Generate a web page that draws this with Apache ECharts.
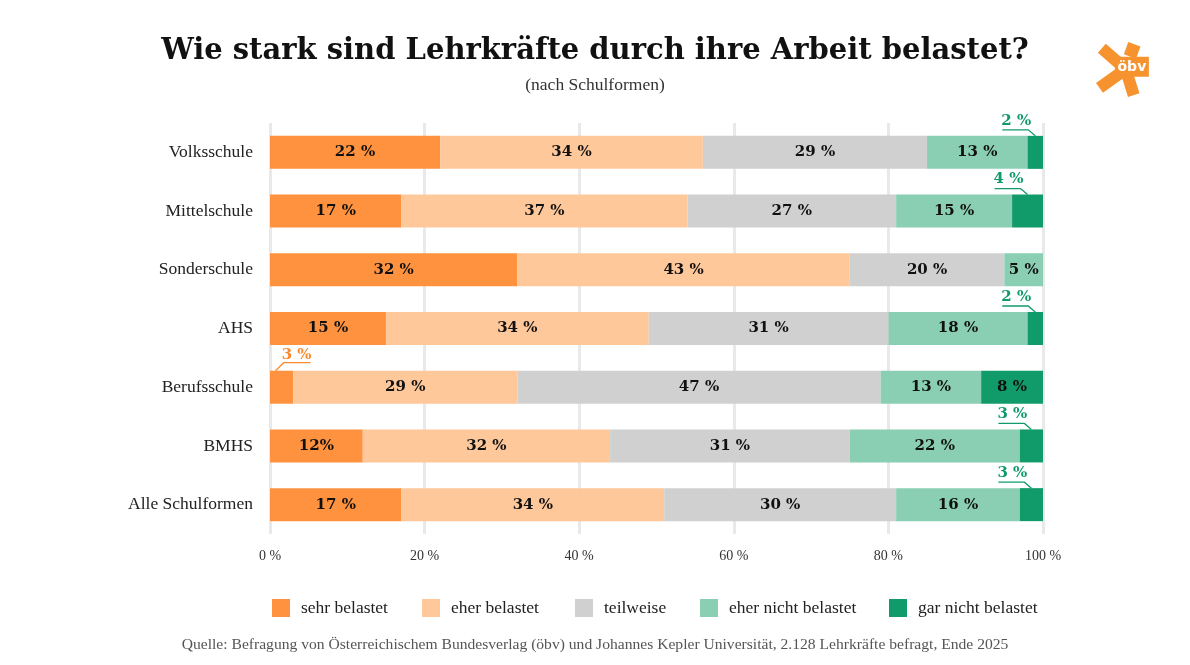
<!DOCTYPE html>
<html>
<head>
<meta charset="utf-8">
<script src="https://cdn.jsdelivr.net/npm/echarts@6/dist/echarts.min.js"></script>
<style>
html,body{margin:0;padding:0;background:#fff;}
#chart{width:1190px;height:665px;}
</style>
</head>
<body>
<div id="chart"></div>
<script>
const categories = ["Volksschule","Mittelschule","Sonderschule","AHS","Berufsschule","BMHS","Alle Schulformen"];
const seriesNames = ["sehr belastet","eher belastet","teilweise","eher nicht belastet","gar nicht belastet"];
const sehrBelastet = [22,17,32,15,3,12,17];
const eherBelastet = [34,37,43,34,29,32,34];
const teilweise = [29,27,20,31,47,31,30];
const eherNichtBelastet = [13,15,5,18,13,22,16];
const garNichtBelastet = [2,4,0,2,8,3,3];
const xTicks = [0,20,40,60,80,100];

const colors = ["#FF923E","#FFC89A","#D0D0D0","#8ACEB4","#119B6A"];
const calloutColors = ["#F98B2E","#119B6A"];
const allSeries = [sehrBelastet, eherBelastet, teilweise, eherNichtBelastet, garNichtBelastet];

const serif = "'Liberation Serif', serif";
const heavy = "'DejaVu Serif', serif";

// callouts for small segments (< 5 %)
const callouts = [];
categories.forEach((c, i) => {
  let start = 0;
  allSeries.forEach((arr, s) => {
    const v = arr[i];
    if (v > 0 && v < 5) callouts.push([start + v / 2, i, v, s]);
    start += v;
  });
});

const chart = echarts.init(document.getElementById('chart'));

const barSeries = allSeries.map((arr, s) => ({
  name: seriesNames[s],
  type: 'bar',
  stack: 'total',
  data: arr,
  barWidth: 33,
  itemStyle: { color: colors[s] },
  label: {
    show: true,
    position: 'inside',
    fontFamily: heavy,
    fontWeight: 'bold',
    fontSize: 15,
    color: '#111',
    formatter: p => {
      if (p.value < 5) return '';
      if (s === 0 && categories[p.dataIndex] === 'BMHS') return p.value + '%';
      return p.value + ' %';
    }
  },
  emphasis: { disabled: true }
}));

const legendLefts = [272, 422, 575, 700, 889];
const legends = seriesNames.map((n, k) => ({
  data: [n],
  left: legendLefts[k],
  top: 599,
  padding: 0,
  itemWidth: 18,
  itemHeight: 18,
  icon: 'rect',
  selectedMode: false,
  textStyle: { fontFamily: serif, fontSize: 17.5, color: '#222', padding: [0, 0, 0, 6] }
}));

const option = {
  animation: false,
  backgroundColor: '#fff',
  color: colors,
  legend: legends,
  grid: { left: 270, right: 147, top: 123, bottom: 131 },
  xAxis: {
    type: 'value', min: 0, max: 100, interval: 20,
    axisLine: { show: false }, axisTick: { show: false },
    splitLine: { show: true, lineStyle: { color: '#E9E9E9', width: 3 } },
    axisLabel: { formatter: v => xTicks.includes(v) ? v + ' %' : '', fontFamily: serif, fontSize: 14, color: '#333', margin: 15 }
  },
  yAxis: {
    type: 'category', inverse: true, data: categories,
    axisLine: { show: false }, axisTick: { show: false },
    axisLabel: { fontFamily: serif, fontSize: 17.5, color: '#222', margin: 17 }
  },
  series: barSeries.concat([{
    type: 'custom',
    data: callouts,
    z: 10,
    clip: false,
    silent: true,
    renderItem: (params, api) => {
      const pt = api.coord([api.value(0), api.value(1)]);
      const half = 33 / 2;
      const cx = pt[0];
      const top = pt[1] - half;
      const s = api.value(3);
      const col = s === 0 ? calloutColors[0] : calloutColors[1];
      const txt = api.value(2) + ' %';
      if (s === 0) {
        return { type: 'group', children: [
          { type: 'polyline', shape: { points: [[cx - 6, top], [cx + 2, top - 8], [cx + 29, top - 8]] }, style: { stroke: col, lineWidth: 1.3, fill: null } },
          { type: 'text', style: { x: cx + 15, y: top - 16, text: txt, fill: col, font: "bold 15px 'DejaVu Serif'", align: 'center', verticalAlign: 'middle' } }
        ]};
      }
      return { type: 'group', children: [
        { type: 'polyline', shape: { points: [[cx, top], [cx - 7, top - 6], [cx - 33, top - 6]] }, style: { stroke: col, lineWidth: 1.3, fill: null } },
        { type: 'text', style: { x: cx - 19, y: top - 15, text: txt, fill: col, font: "bold 15px 'DejaVu Serif'", align: 'center', verticalAlign: 'middle' } }
      ]};
    }
  }]),
  graphic: [
    { type: 'text', left: 'center', top: 37, style: { text: 'Wie stark sind Lehrkräfte durch ihre Arbeit belastet?', font: "900 29px 'DejaVu Serif'", fill: '#111' } },
    { type: 'text', left: 'center', top: 76, style: { text: '(nach Schulformen)', font: "17.5px 'Liberation Serif'", fill: '#333' } },
    { type: 'text', left: 'center', top: 637, style: { text: 'Quelle: Befragung von Österreichischem Bundesverlag (öbv) und Johannes Kepler Universität, 2.128 Lehrkräfte befragt, Ende 2025', font: "15.6px 'Liberation Serif'", fill: '#555' } },
    // logo
    { type: 'group', left: 1096, top: 42, children: [
      { type: 'rect', shape: { x: -6, y: -6, width: 13, height: 13 }, x: 33, y: 9, rotation: -0.35, style: { fill: '#F7932F' } },
      { type: 'rect', shape: { x: -6, y: -16, width: 12, height: 30 }, x: 15, y: 18, rotation: 0.85, style: { fill: '#F7932F' } },
      { type: 'rect', shape: { x: -6, y: -14, width: 12, height: 28 }, x: 12, y: 39, rotation: -0.95, style: { fill: '#F7932F' } },
      { type: 'rect', shape: { x: -6, y: -13, width: 12, height: 26 }, x: 31, y: 42, rotation: 0.3, style: { fill: '#F7932F' } },
      { type: 'rect', shape: { x: 0, y: 0, width: 34, height: 20 }, x: 16, y: 16, style: { fill: '#F7932F' } },
      { type: 'text', x: 33, y: 26.5, style: { text: 'öbv', font: "bold 14px 'DejaVu Sans'", fill: '#fff', align: 'center', verticalAlign: 'middle' } }
    ]}
  ]
};
chart.setOption(option);
</script>
</body>
</html>
